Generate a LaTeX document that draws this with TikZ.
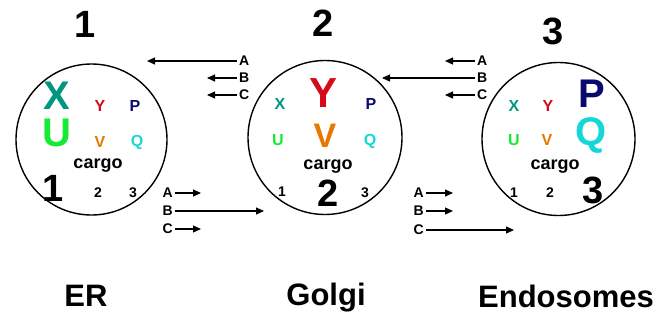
\documentclass[tikz,border=0pt]{standalone}
\usepackage{fontspec}
\setmainfont{Liberation Sans}
\usetikzlibrary{arrows.meta}
\definecolor{cX}{RGB}{0,150,130}
\definecolor{cU}{RGB}{20,235,50}
\definecolor{cY}{RGB}{215,10,25}
\definecolor{cV}{RGB}{230,120,0}
\definecolor{cP}{RGB}{10,10,110}
\definecolor{cQ}{RGB}{20,215,215}
\tikzset{
  comp/.style={circle,draw,line width=1.4pt,minimum size=151pt,inner sep=0pt},
  t/.style={inner sep=0pt,font=\bfseries\fontsize{#1}{#1}\selectfont},
  t/.default=16,
  arr/.style={line width=1.1pt,-{Triangle[length=8pt,width=7pt]}},
}
\begin{document}
\begin{tikzpicture}[x=1pt,y=-1pt]
\useasboundingbox (0,0) rectangle (671,322);
% compartments
\node[comp] (c1) at (91.5,139.5) {};
\node[comp,minimum size=154pt] (c2) at (325,137.5) {};
\node[comp,minimum size=153pt] (c3) at (558.5,139) {};
% top numbers
\node[t=38] (n1) at (85,24) {1};
\node[t=38] (n2) at (323,23) {2};
\node[t=38] (n3) at (553,31) {3};
% circle 1
\node[t=40,text=cX] (x1) at (57,96) {X};
\node[t=40,text=cU] (u1) at (57,133) {U};
\node[t=16,text=cY] (y1) at (100,106) {Y};
\node[t=16,text=cP] (p1) at (135,106) {P};
\node[t=16,text=cV] (v1) at (100,142) {V};
\node[t=16,text=cQ] (q1) at (137,142) {Q};
\node[t=18] (g1) at (98,166) {cargo};
\node[t=38] (a1) at (53,188) {1};
\node[t=14] (b1) at (98,193) {2};
\node[t=14] (d1) at (133,193) {3};
% circle 2
\node[t=16,text=cX] (x2) at (280,104) {X};
\node[t=42,text=cY] (y2) at (324,93) {Y};
\node[t=16,text=cP] (p2) at (371,104) {P};
\node[t=16,text=cU] (u2) at (278,140) {U};
\node[t=34,text=cV] (v2) at (325,136) {V};
\node[t=16,text=cQ] (q2) at (370,141) {Q};
\node[t=18] (g2) at (328,167) {cargo};
\node[t=14] (a2) at (282,192) {1};
\node[t=38] (b2) at (328,193) {2};
\node[t=14] (d2) at (365,193) {3};
% circle 3
\node[t=16,text=cX] (x3) at (514,106) {X};
\node[t=16,text=cY] (y3) at (548,106) {Y};
\node[t=40,text=cP] (p3) at (592,94) {P};
\node[t=40,text=cQ] (q3) at (591,135) {Q};
\node[t=16,text=cU] (u3) at (514,140) {U};
\node[t=16,text=cV] (v3) at (547,140) {V};
\node[t=18] (g3) at (555,167) {cargo};
\node[t=14] (a3) at (514,193) {1};
\node[t=14] (b3) at (550,193) {2};
\node[t=38] (d3) at (593,190) {3};
% bottom labels
\node[t=31] (er) at (86,296) {ER};
\node[t=31] (go) at (326,298) {Golgi};
\node[t=31] (en) at (566,296) {Endosomes};
% arrow group: 2 -> 1 (top left)
\node[t=14,anchor=west] (lA1) at (239,61) {A};
\node[t=14,anchor=west] (lB1) at (239,78) {B};
\node[t=14,anchor=west] (lC1) at (239,95) {C};
\coordinate (eA1) at (147,61);
\coordinate (eB1) at (207,78);
\coordinate (eC1) at (207,95);
\draw[arr] ([xshift=-2pt]lA1.west) -- (eA1);
\draw[arr] ([xshift=-2pt]lB1.west) -- (eB1);
\draw[arr] ([xshift=-2pt]lC1.west) -- (eC1);
% arrow group: 1 -> 2 (bottom left)
\node[t=14,anchor=east] (lA2) at (173,193) {A};
\node[t=14,anchor=east] (lB2) at (173,211) {B};
\node[t=14,anchor=east] (lC2) at (173,229) {C};
\coordinate (eA2) at (201,193);
\coordinate (eB2) at (264,211);
\coordinate (eC2) at (201,229);
\draw[arr] ([xshift=2pt]lA2.east) -- (eA2);
\draw[arr] ([xshift=2pt]lB2.east) -- (eB2);
\draw[arr] ([xshift=2pt]lC2.east) -- (eC2);
% arrow group: 3 -> 2 (top right)
\node[t=14,anchor=west] (lA3) at (477,61) {A};
\node[t=14,anchor=west] (lB3) at (477,78) {B};
\node[t=14,anchor=west] (lC3) at (477,95) {C};
\coordinate (eA3) at (445,61);
\coordinate (eB3) at (382,78);
\coordinate (eC3) at (445,95);
\draw[arr] ([xshift=-2pt]lA3.west) -- (eA3);
\draw[arr] ([xshift=-2pt]lB3.west) -- (eB3);
\draw[arr] ([xshift=-2pt]lC3.west) -- (eC3);
% arrow group: 2 -> 3 (bottom right)
\node[t=14,anchor=east] (lA4) at (424,193) {A};
\node[t=14,anchor=east] (lB4) at (424,211) {B};
\node[t=14,anchor=east] (lC4) at (424,230) {C};
\coordinate (eA4) at (453,193);
\coordinate (eB4) at (453,211);
\coordinate (eC4) at (514,230);
\draw[arr] ([xshift=2pt]lA4.east) -- (eA4);
\draw[arr] ([xshift=2pt]lB4.east) -- (eB4);
\draw[arr] ([xshift=2pt]lC4.east) -- (eC4);
\end{tikzpicture}
\end{document}
